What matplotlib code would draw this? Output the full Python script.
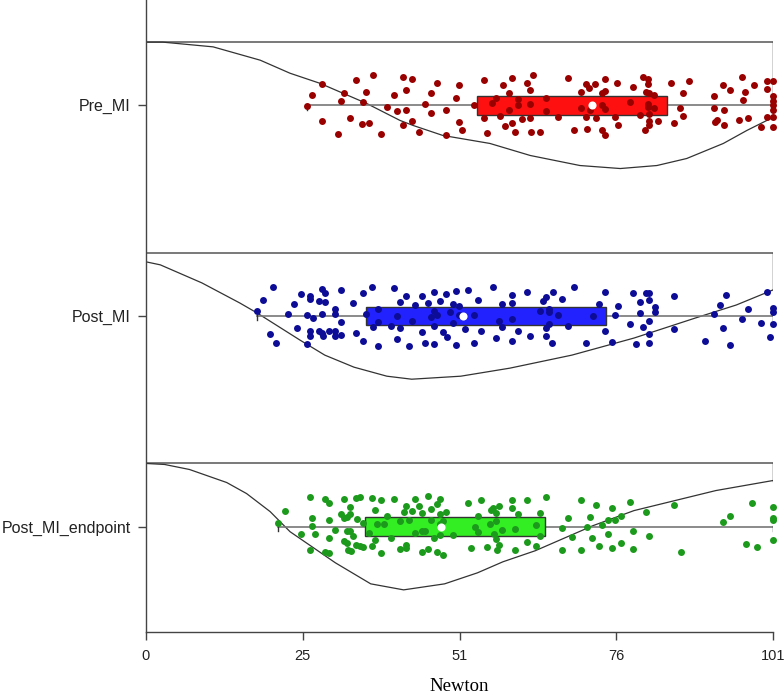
import matplotlib
matplotlib.use("Agg")
import matplotlib.pyplot as plt
from matplotlib.patches import Rectangle

# groups, top to bottom
groups = ["Pre_MI", "Post_MI", "Post_MI_endpoint"]
positions = [2.5, 1.5, 0.5]
box_colors = ["#ff1010", "#2222ff", "#33ee22"]
dot_colors = ["#990000", "#0c0c96", "#1c9a1c"]

# box stats (Newton): q1, q3, mean, whisker low, whisker high
q1 = [53.3, 35.5, 35.2]
q3 = [83.9, 74.1, 64.3]
means = [71.9, 51.1, 47.6]
whisk_lo = [25.9, 17.9, 21.3]
whisk_hi = [101.0, 101.0, 101.0]

# density outlines (height relative to max)
pre_dens_x = [0, 2.7, 10.8, 18.4, 23.2, 28, 35.5, 40.9, 43, 47.8, 55.4, 61.9,
              69.9, 76.4, 82.3, 87.1, 93, 96.8, 101]
pre_dens_h = [0, 0, 4.7, 18, 31, 41, 61, 78, 83, 93, 101, 113,
              123, 126, 123, 116, 101, 88, 75]
post_dens_x = [0, 2.3, 9, 15.1, 17.9, 24.8, 28.8, 33.5, 38.8, 42.8, 50.7, 58.6,
               68.6, 78.6, 88.5, 95.1, 101]
post_dens_h = [9, 12, 30, 50, 60, 87, 102, 114, 123, 126, 123, 115,
               102, 85, 65, 52, 37]
end_dens_x = [0, 3, 7, 13, 16.2, 20, 23.2, 26.5, 30.5, 36.2, 41.5, 48.1,
              53.4, 57.5, 62.7, 72, 78.6, 85.2, 91.8, 101]
end_dens_h = [0, 1, 6, 19, 30, 48, 68, 82, 99, 120, 126, 120,
              109, 98, 87, 62, 47, 37, 27, 17]

# raw observations (Newton) and their vertical jitter
pre_x = [25.9, 26.8, 28.4, 28.4, 30.9, 31.4, 31.9, 32.9, 33.9, 34.8, 35.0, 35.4,
         35.9, 36.5, 37.9, 38.9, 40.0, 40.4, 41.4, 41.4, 41.9, 41.9, 42.9, 42.9,
         43.9, 44.9, 45.9, 45.9, 46.9, 48.4, 48.4, 49.9, 50.4, 50.4, 50.9, 52.8,
         54.4, 54.4, 55.0, 55.8, 56.4, 57.0, 57.5, 57.9, 58.4, 58.5, 59.0, 59.0,
         59.4, 60.0, 60.0, 60.5, 61.4, 61.9, 61.9, 61.9, 62.0, 62.4, 63.4, 64.4,
         64.4, 66.4, 67.9, 68.9, 70.0, 70.0, 70.9, 70.9, 71.0, 71.4, 71.5, 72.4,
         72.5, 73.5, 73.5, 73.5, 73.9, 73.9, 74.0, 73.9, 75.5, 75.9, 76.0, 77.9,
         78.5, 79.5, 80.0, 80.4, 80.9, 80.9, 80.5, 81.0, 80.9, 80.9, 81.0, 81.0,
         81.0, 81.9, 81.9, 82.5, 84.5, 85.0, 86.0, 86.5, 86.5, 87.5, 91.5, 91.5,
         91.6, 92.0, 93.0, 93.1, 93.1, 94.0, 95.6, 96.0, 96.1, 96.5, 97.0, 98.0,
         99.1, 100.0, 100.0, 100.0, 101.0, 101.0, 101.0, 101.0, 101.0, 101.0, 101.0]
pre_jit = [-0.002, 0.051, 0.101, -0.073, -0.136, 0.022, 0.060, -0.059, 0.122, -0.089, 0.017, 0.065,
           -0.082, 0.146, -0.136, -0.006, 0.049, -0.027, 0.133, -0.093, 0.074, -0.024, 0.127, -0.076,
           -0.125, 0.006, 0.057, -0.035, 0.105, -0.021, -0.141, 0.035, 0.095, -0.079, -0.116, 0.002,
           0.120, -0.060, -0.130, 0.013, 0.033, -0.049, 0.098, -0.098, 0.060, -0.021, 0.130, -0.082,
           -0.125, 0.030, 0.002, -0.065, 0.105, 0.074, 0.006, -0.062, -0.127, 0.143, -0.128, 0.035,
           -0.025, -0.054, 0.130, -0.119, 0.065, -0.013, 0.101, -0.054, -0.111, 0.084, -0.022, 0.101,
           -0.059, 0.060, 0.003, -0.116, 0.124, -0.019, -0.139, 0.070, -0.057, 0.108, -0.092, 0.016,
           0.089, -0.046, 0.133, -0.119, 0.127, 0.101, 0.062, 0.060, 0.006, -0.010, -0.041, -0.073,
           -0.092, 0.049, -0.011, -0.076, 0.105, -0.086, -0.014, 0.060, -0.049, 0.117, 0.046, -0.014,
           -0.081, -0.070, 0.098, -0.022, -0.092, 0.074, -0.068, 0.136, 0.025, 0.063, -0.060, 0.098,
           -0.101, 0.114, 0.078, -0.057, 0.117, 0.046, 0.022, 0.003, -0.022, -0.057, -0.105]

post_x = [17.8, 18.8, 19.9, 20.4, 20.9, 22.9, 23.8, 24.4, 24.9, 25.9, 25.9, 26.4,
          26.4, 26.4, 26.4, 26.9, 27.9, 27.9, 28.4, 28.4, 28.4, 28.5, 28.9, 28.9,
          29.4, 30.4, 30.4, 30.4, 30.4, 31.4, 31.4, 31.4, 33.4, 33.9, 34.9, 34.9,
          35.4, 36.4, 36.5, 37.3, 37.4, 37.4, 39.4, 39.9, 40.4, 40.4, 40.9, 40.9,
          41.9, 42.3, 42.9, 43.4, 44.4, 44.4, 44.9, 45.5, 45.9, 46.4, 46.4, 46.4,
          46.4, 46.9, 47.4, 47.9, 48.4, 48.5, 48.9, 49.4, 49.4, 49.9, 49.9, 50.4,
          50.4, 51.4, 51.9, 52.9, 52.9, 53.4, 53.9, 55.9, 56.4, 56.9, 57.4, 57.4,
          58.9, 58.9, 58.9, 58.9, 59.9, 61.4, 61.9, 63.4, 63.9, 64.5, 64.5, 64.5,
          64.9, 64.9, 64.9, 65.4, 65.5, 66.4, 67.0, 67.9, 69.0, 70.9, 72.0, 73.0,
          74.0, 74.0, 75.0, 75.6, 76.0, 78.0, 78.5, 79.0, 79.5, 79.6, 80.0, 80.5,
          81.0, 81.0, 81.0, 81.0, 81.0, 82.0, 82.0, 85.0, 85.0, 90.0, 91.5, 92.5,
          93.0, 93.5, 94.0, 96.0, 97.0, 99.1, 100.1, 100.5, 101.0, 101.0, 101.0]
post_jit = [0.022, 0.075, -0.086, 0.139, -0.126, 0.010, 0.055, -0.057, 0.104, 0.004, -0.131, 0.094,
            0.083, -0.070, -0.094, -0.009, 0.071, -0.070, 0.126, 0.010, -0.081, -0.094, 0.107, 0.067,
            -0.073, 0.035, 0.010, -0.070, -0.094, 0.123, -0.028, -0.092, 0.062, -0.081, 0.110, -0.121,
            0.010, 0.136, -0.051, 0.035, -0.144, -0.028, -0.047, 0.132, -0.002, -0.107, 0.067, -0.057,
            0.094, -0.144, -0.022, 0.052, 0.097, -0.076, -0.128, 0.063, -0.004, 0.113, 0.026, -0.049,
            -0.132, 0.004, 0.071, -0.078, 0.104, -0.099, 0.018, 0.059, -0.031, 0.121, -0.137, 0.046,
            0.007, -0.063, 0.123, 0.004, -0.126, 0.078, -0.073, 0.139, -0.105, -0.025, 0.055, -0.051,
            0.099, 0.063, -0.014, -0.120, -0.073, 0.113, -0.097, 0.023, 0.070, 0.088, -0.057, -0.094,
            0.033, 0.018, -0.038, -0.128, 0.115, 0.004, 0.083, -0.047, 0.139, -0.128, -0.002, 0.055,
            0.115, -0.073, -0.124, 0.007, 0.047, -0.038, 0.107, -0.134, 0.065, 0.015, -0.051, 0.107,
            0.107, 0.078, -0.025, -0.086, -0.129, 0.043, 0.018, 0.094, -0.063, -0.118, 0.010, 0.051,
            -0.057, 0.100, -0.139, -0.012, 0.031, -0.035, 0.113, -0.099, 0.036, 0.018, -0.038]

end_x = [21.3, 22.4, 24.9, 26.4, 26.4, 26.8, 26.8, 27.3, 28.8, 28.8, 29.4, 29.4,
         29.4, 29.4, 30.4, 31.4, 31.9, 31.9, 31.9, 32.4, 32.4, 32.4, 32.6, 32.9,
         32.9, 32.9, 33.0, 33.4, 33.8, 33.8, 34.0, 34.4, 34.4, 34.9, 35.0, 35.9,
         36.4, 36.4, 36.9, 36.9, 37.2, 37.9, 37.9, 38.4, 38.9, 39.4, 39.9, 40.9,
         40.9, 41.5, 41.9, 41.9, 41.9, 42.4, 42.9, 43.4, 43.4, 43.9, 44.4, 44.4,
         44.5, 44.9, 45.4, 45.4, 45.9, 45.9, 46.4, 46.8, 46.8, 47.4, 47.4, 47.4,
         47.4, 47.9, 47.9, 48.4, 49.4, 51.9, 52.4, 53.0, 53.4, 53.4, 54.0, 55.0,
         55.4, 55.5, 55.9, 56.0, 56.4, 56.4, 56.4, 56.5, 56.9, 56.9, 57.4, 59.0,
         59.0, 59.4, 59.5, 60.0, 61.4, 61.4, 62.9, 62.9, 63.5, 63.5, 64.4, 67.0,
         67.0, 68.0, 68.6, 70.0, 70.0, 71.0, 71.5, 71.9, 72.5, 73.0, 73.5, 74.4,
         74.4, 75.0, 75.0, 75.5, 76.5, 76.5, 78.0, 78.5, 78.5, 80.5, 81.0, 85.1,
         86.1, 93.0, 94.1, 96.6, 97.6, 98.5, 101.0, 101.0, 101.0, 101.0]
end_jit = [0.016, 0.074, -0.036, 0.141, -0.112, 0.043, 0.003, -0.036, 0.133, -0.120, 0.114, 0.030,
           -0.052, -0.124, -0.017, 0.062, 0.130, 0.040, -0.068, 0.046, -0.021, -0.076, -0.112, 0.059,
           0.093, -0.021, -0.116, -0.044, 0.138, -0.087, 0.038, 0.141, -0.092, -0.097, 0.019, -0.029,
           0.138, -0.092, 0.078, -0.063, 0.014, 0.125, -0.127, 0.014, 0.051, -0.052, 0.130, 0.027,
           -0.108, 0.071, 0.098, -0.087, -0.100, 0.030, 0.074, 0.130, -0.029, 0.098, -0.021, -0.120,
           0.063, -0.021, 0.146, -0.105, 0.082, 0.032, -0.052, 0.106, -0.120, 0.130, 0.062, -0.041,
           0.014, 0.027, -0.136, 0.070, -0.040, 0.112, -0.103, -0.002, 0.051, -0.025, 0.127, -0.097,
           0.011, 0.078, 0.090, -0.033, 0.067, 0.027, -0.060, -0.112, 0.098, -0.087, -0.017, 0.125,
           0.090, -0.013, -0.112, 0.062, 0.125, -0.071, 0.008, -0.092, 0.067, -0.044, 0.143, -0.008,
           -0.109, 0.043, -0.049, 0.128, -0.109, -0.002, 0.048, -0.055, 0.103, -0.090, 0.008, 0.033,
           -0.033, 0.090, -0.100, 0.033, 0.051, -0.076, 0.119, -0.021, -0.108, 0.071, -0.046, 0.101,
           -0.120, 0.024, 0.051, -0.084, 0.111, -0.095, 0.095, 0.040, 0.030, -0.063]

dens_x = [pre_dens_x, post_dens_x, end_dens_x]
dens_h = [pre_dens_h, post_dens_h, end_dens_h]
obs_x = [pre_x, post_x, end_x]
obs_jit = [pre_jit, post_jit, end_jit]

x_ticks = [0, 25.25, 50.5, 75.75, 101]
x_tick_labels = ["0", "25", "51", "76", "101"]

fig = plt.figure(figsize=(7.84, 6.96), dpi=100)
ax = fig.add_axes([146 / 784, 64 / 696, 627 / 784, 632 / 696])

offset = 0.3      # baseline of the cloud above the group centre
depth = 0.6       # full depth of each cloud
half_box = 0.044

for i, name in enumerate(groups):
    yc = positions[i]
    base = yc + offset
    hmax = max(dens_h[i])
    curve_y = [base - depth * h / hmax for h in dens_h[i]]
    xs = dens_x[i]

    # cloud outline: baseline, right edge, then the density curve
    ax.plot([xs[0], xs[-1]], [base, base], color="#555555", lw=1.1, zorder=1)
    ax.plot([xs[-1], xs[-1]], [base, curve_y[-1]], color="#222222", lw=1.0, zorder=1)
    ax.plot(xs, curve_y, color="#333333", lw=0.9, zorder=1)

    # whisker line + caps
    ax.plot([whisk_lo[i], whisk_hi[i]], [yc, yc], color="#777777", lw=1.2, zorder=2)
    for w in (whisk_lo[i], whisk_hi[i]):
        ax.plot([w, w], [yc - 0.02, yc + 0.005], color="#333333", lw=1.0, zorder=2)

    # box
    ax.add_patch(Rectangle((q1[i], yc - half_box), q3[i] - q1[i], 2 * half_box,
                           facecolor=box_colors[i], edgecolor="#333333", lw=1.0, zorder=3))

    # points
    ax.scatter(obs_x[i], [yc + j for j in obs_jit[i]], s=25, color=dot_colors[i],
               linewidths=0, zorder=4, clip_on=False)

    # mean
    ax.scatter([means[i]], [yc], s=34, color="white", linewidths=0, zorder=5)

ax.set_xlim(0, 101)
ax.set_ylim(0, 3)
ax.set_xticks(x_ticks)
ax.set_xticklabels(x_tick_labels, fontsize=10.5, family="Liberation Sans", color="#222222")
ax.set_yticks(positions)
ax.set_yticklabels(groups, fontsize=11.5, family="Liberation Sans", color="#222222")
ax.tick_params(axis="both", direction="out", length=6, width=1, colors="#444444")
ax.tick_params(axis="x", pad=6, labelcolor="#222222")
ax.tick_params(axis="y", pad=5, labelcolor="#222222")
ax.set_xlabel("Newton", fontsize=13.5, family="Liberation Serif", labelpad=11)

for side in ("top", "right"):
    ax.spines[side].set_visible(False)
for side in ("left", "bottom"):
    ax.spines[side].set_color("#444444")
    ax.spines[side].set_linewidth(1.0)

fig.savefig("out.png", dpi=100)
